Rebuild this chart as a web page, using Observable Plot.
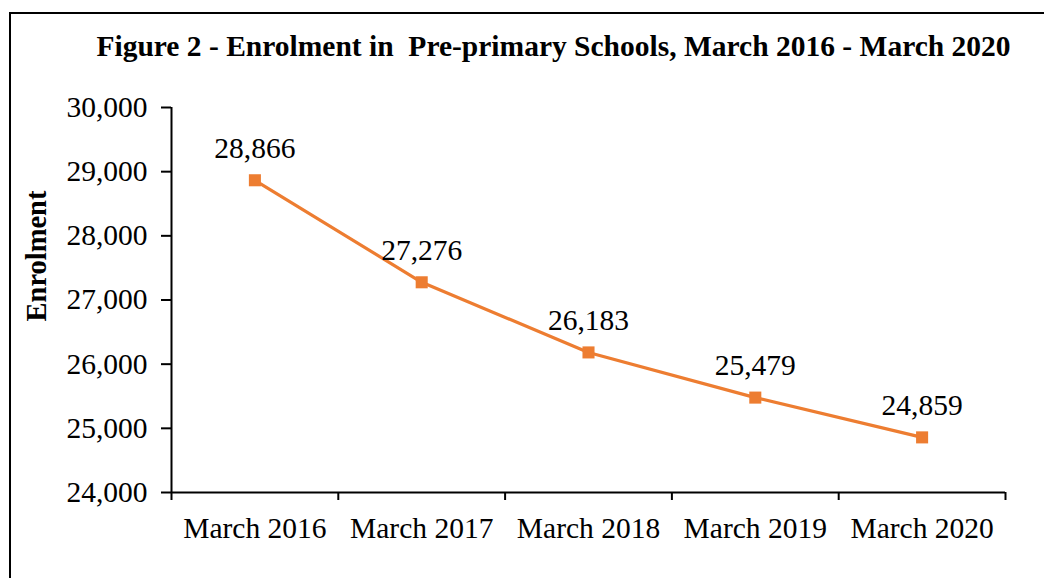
<!DOCTYPE html>
<html><head><meta charset="utf-8">
<script src="https://cdn.jsdelivr.net/npm/d3@7"></script>
<script src="https://cdn.jsdelivr.net/npm/@observablehq/plot@0.6"></script>
<style>
body{margin:0;background:#fff;}
#wrap{position:relative;width:1044px;height:578px;overflow:hidden;font-family:"Liberation Serif","Times New Roman",serif;color:#000;}
#frame{position:absolute;left:9px;top:12px;width:1200px;height:800px;border-left:2px solid #000;border-top:2px solid #000;}
#title{position:absolute;left:0;width:1107px;top:32px;text-align:center;font-weight:bold;font-size:29.5px;white-space:pre;line-height:1;}
#ylabel{position:absolute;left:37px;top:256px;transform:translate(-50%,-50%) rotate(-90deg);font-weight:bold;font-size:28.5px;white-space:nowrap;line-height:1;}
#chart{position:absolute;left:0;top:0;}
</style></head>
<body>
<div id="wrap">
  <div id="frame"></div>
  <div id="chart"></div>
  <div id="title">Figure 2 - Enrolment in  Pre-primary Schools, March 2016 - March 2020</div>
  <div id="ylabel">Enrolment</div>
</div>
<script>
const categories = ["March 2016","March 2017","March 2018","March 2019","March 2020"];
const enrolment = [28866, 27276, 26183, 25479, 24859];
const yTicks = [24000, 25000, 26000, 27000, 28000, 29000, 30000];

const data = categories.map((c, i) => ({pos: i + 0.5, label: c, value: enrolment[i]}));
const boundaries = d3.range(categories.length + 1);
const fmt = d3.format(",");
const orange = "#ED7D31";
const fs = 29.5;

const chart = Plot.plot({
  width: 1044, height: 578,
  marginLeft: 171, marginRight: 39, marginTop: 107, marginBottom: 86,
  style: {fontFamily: '"Liberation Serif","Times New Roman",serif', fontSize: fs + "px", color: "#000", background: "transparent", overflow: "visible"},
  x: {type: "linear", domain: [0, categories.length], axis: null},
  y: {domain: [24000, 30000], axis: null},
  marks: [
    Plot.axisY({ticks: yTicks, tickSize: 10, tickPadding: 14, tickFormat: fmt, label: null, strokeWidth: 2, fontSize: fs}),
    Plot.axisX({ticks: boundaries, tickSize: 8, tickFormat: () => "", label: null, strokeWidth: 2}),
    Plot.ruleX([0], {stroke: "#000", strokeWidth: 2}),
    Plot.ruleY([24000], {stroke: "#000", strokeWidth: 2}),
    Plot.text(data, {x: "pos", y: () => 24000, text: "label", dy: 36, fontSize: fs}),
    Plot.line(data, {x: "pos", y: "value", stroke: orange, strokeWidth: 3.2}),
    Plot.dot(data, {x: "pos", y: "value", symbol: "square", fill: orange, r: 6.8}),
    Plot.text(data, {x: "pos", y: "value", text: d => fmt(d.value), dy: -32, fontSize: fs})
  ]
});
document.getElementById("chart").appendChild(chart);
</script>
</body></html>
